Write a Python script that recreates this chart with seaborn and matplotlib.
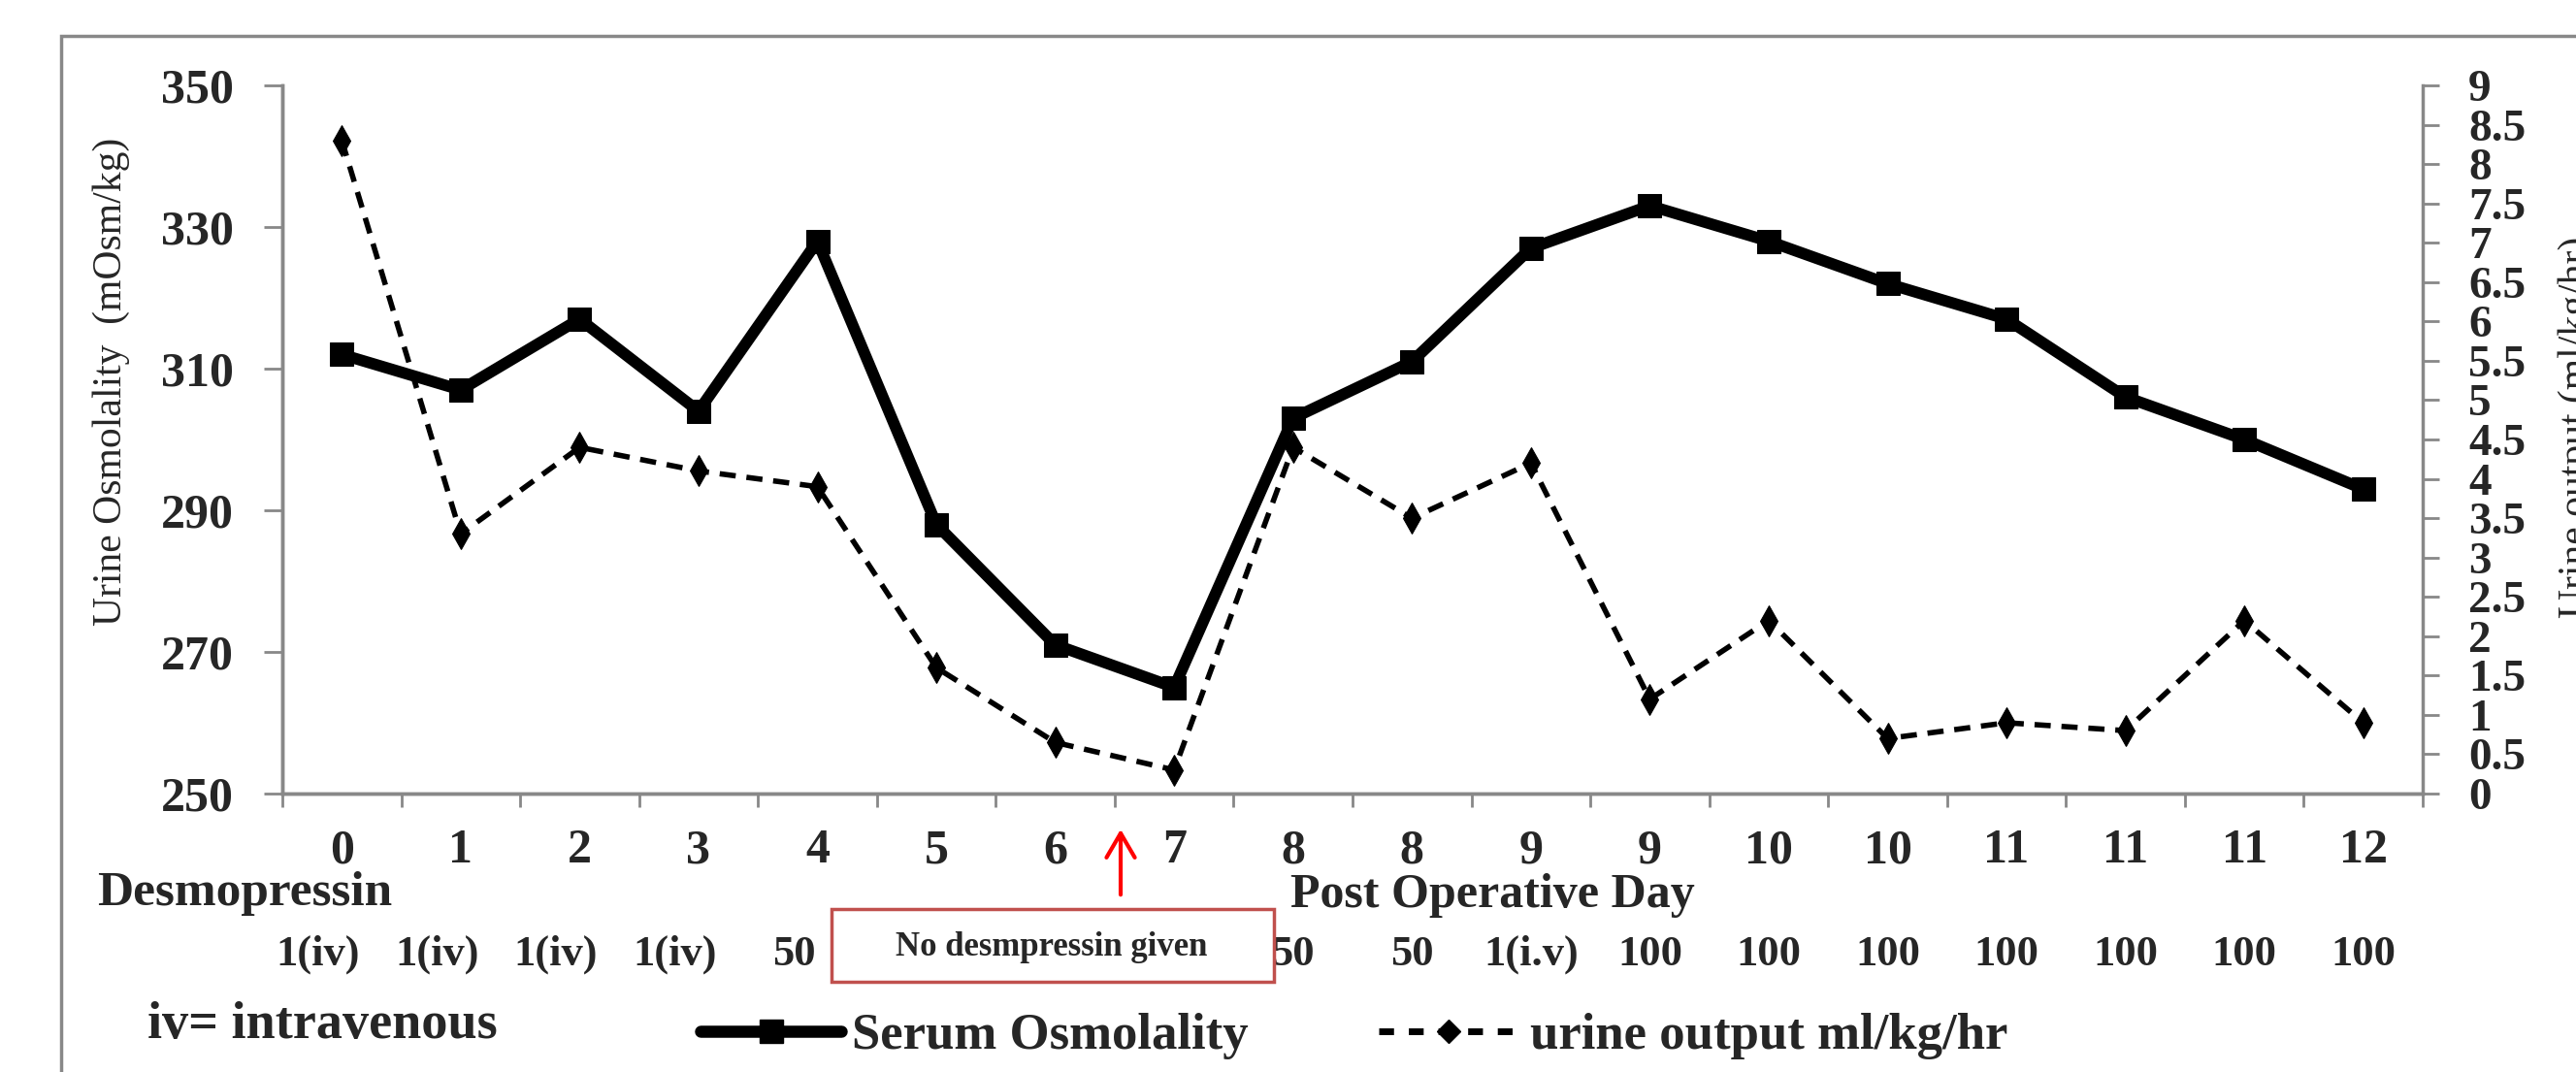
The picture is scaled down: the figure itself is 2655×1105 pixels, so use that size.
# Serum osmolality and urine output by post-operative day

import numpy as np
import matplotlib
matplotlib.use("Agg")
import matplotlib.pyplot as plt
import matplotlib.transforms as mtransforms
from matplotlib.lines import Line2D
from matplotlib.patches import Rectangle
import seaborn as sns

days = ["0", "1", "2", "3", "4", "5", "6", "7", "8", "8",
        "9", "9", "10", "10", "11", "11", "11", "12"]
serum_osm = [312, 307, 317, 304, 328, 288, 271, 265, 303, 311,
             327, 333, 328, 322, 317, 306, 300, 293]
urine_out = [8.3, 3.3, 4.4, 4.1, 3.9, 1.6, 0.65, 0.3, 4.4, 3.5,
             4.2, 1.2, 2.2, 0.7, 0.9, 0.8, 2.2, 0.9]
doses = ["1(iv)", "1(iv)", "1(iv)", "1(iv)", "50", "", "", "", "50", "50",
         "1(i.v)", "100", "100", "100", "100", "100", "100", "100"]
left_ticks = [250, 270, 290, 310, 330, 350]
right_ticks = [0, 0.5, 1, 1.5, 2, 2.5, 3, 3.5, 4, 4.5,
               5, 5.5, 6, 6.5, 7, 7.5, 8, 8.5, 9]

sns.set_style("white")
plt.rcParams["font.family"] = ["Liberation Serif", "DejaVu Serif"]
plt.rcParams["font.weight"] = "bold"

W, H = 2655, 1105
gray = "#888888"

fig = plt.figure(figsize=(W / 100, H / 100), dpi=100)
ax = fig.add_axes([291 / W, 1 - 818 / H, (2497 - 291) / W, (818 - 88) / H])
ax2 = ax.twinx()
ax.set_zorder(ax2.get_zorder() + 1)
ax.patch.set_visible(False)

pos = np.arange(len(days))

sns.lineplot(x=pos, y=urine_out, ax=ax2, color="black", lw=4,
             linestyle=(0, (3, 2)), marker="d", markersize=16,
             markeredgecolor="black", sort=False)
sns.lineplot(x=pos, y=serum_osm, ax=ax, color="black", lw=8.5,
             marker="s", markersize=17, markeredgecolor="black", sort=False)

ax.set_xlim(-0.5, len(days) - 0.5)
ax.set_ylim(250, 350)
ax2.set_ylim(0, 9)
ax.set_xlabel("")
ax.set_ylabel("")
ax2.set_ylabel("")

ax.set_xticks(pos)
ax.set_xticklabels(days)
ax.set_xticks(np.arange(-0.5, len(days), 1), minor=True)
ax.tick_params(axis="x", which="major", length=0, pad=26, labelsize=36)
ax.tick_params(axis="x", which="minor", length=10, width=2, color=gray, bottom=True)

ax.set_yticks(left_ticks)
ax.tick_params(axis="y", length=14, width=2, color=gray, pad=22, labelsize=36)
ax2.set_yticks(right_ticks)
ax2.set_yticklabels([f"{v:g}" for v in right_ticks])
ax2.tick_params(axis="y", length=12, width=2, color=gray, pad=22, labelsize=34)

for a in (ax, ax2):
    a.spines["top"].set_visible(False)
    for s in ("left", "right", "bottom"):
        a.spines[s].set_color(gray)
        a.spines[s].set_linewidth(2.5)
ax.spines["right"].set_visible(False)

# outer frame
fig.patches.append(Rectangle((63 / W, -0.1), 1.2, 1 - 37 / H + 0.1,
                             transform=fig.transFigure, fill=False,
                             edgecolor=gray, lw=2.5))

# axis titles
fig.text(115 / W, 1 - 393 / H, "Urine Osmolality  (mOsm/kg)", rotation=90,
         ha="center", va="center", fontsize=30, fontweight="normal")
fig.text(2636 / W, 1 - 440 / H, "Urine output (ml/kg/hr)", rotation=90,
         ha="left", va="center", fontsize=30, fontweight="normal")

fig.text(100 / W, 1 - 933 / H, "Desmopressin", ha="left", va="baseline", fontsize=37)
fig.text(1330 / W, 1 - 935 / H, "Post Operative Day", ha="left", va="baseline", fontsize=36)

# dose row
bt = mtransforms.blended_transform_factory(ax.transData, fig.transFigure)
for i, d in enumerate(doses):
    if d:
        dx = -0.2 if i < 5 else 0.0
        ax.text(i + dx, 1 - 984 / H, d, transform=bt, ha="center", va="center",
                fontsize=32, clip_on=False)

fig.patches.append(Rectangle((857 / W, 1 - 1012 / H), (1313 - 857) / W, 75 / H,
                             transform=fig.transFigure, facecolor="white",
                             edgecolor="#C0504D", lw=2.5))
fig.text(1084 / W, 1 - 985 / H, "No desmpressin given", ha="center", va="baseline",
         fontsize=25)

ax.annotate("", xy=(6.55, 1 - 852 / H), xytext=(6.55, 1 - 925 / H),
            xycoords=bt, textcoords=bt,
            arrowprops=dict(arrowstyle="->,head_length=0.6,head_width=0.35",
                            color="red", lw=3, mutation_scale=30))

fig.text(152 / W, 1 - 1057 / H, "iv= intravenous", ha="left", va="center", fontsize=39)

handles = [Line2D([], [], color="black", lw=9, marker="s", markersize=17),
           Line2D([], [], color="black", lw=5, linestyle=(0, (2.2, 2.2)),
                  marker="D", markersize=12)]
fig.legend(handles, ["Serum Osmolality", "urine output ml/kg/hr"],
           loc="center left", bbox_to_anchor=(722 / W, 1 - 1068 / H),
           ncol=2, frameon=False, fontsize=38, handlelength=2.75,
           handletextpad=0.2, columnspacing=2.55, borderpad=0, borderaxespad=0)

fig.savefig("out.png", dpi=100)
